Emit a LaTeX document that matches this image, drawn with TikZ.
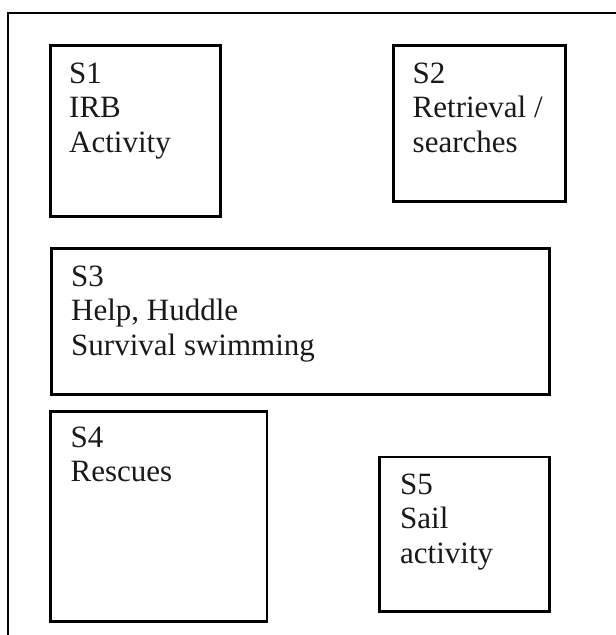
\documentclass[tikz,border=0pt]{standalone}
\usepackage{fontspec}
\setmainfont{Liberation Serif}
\begin{document}
\begin{tikzpicture}[x=1pt,y=-1pt,
  box/.style={draw=black,line width=2.6pt,rectangle,inner sep=0pt,anchor=north west},
  lbl/.style={anchor=base west,inner sep=0pt,align=left,text=black!90,font=\fontsize{31}{34.5}\selectfont}]
\useasboundingbox (0,0) rectangle (616,635);
\clip (0,0) rectangle (616,635);
% outer frame (cut by the page on the right and bottom)
\coordinate (fbl) at (8,660);
\coordinate (ftl) at (8,13);
\coordinate (ftr) at (617,13);
\coordinate (fbr) at (617,660);
\draw[line width=2.6pt] (fbl) -- (ftl) -- (ftr) -- (fbr);
% boxes
\node[box,minimum width=170pt,minimum height=171pt] (s1) at (49,44) {};
\node[box,minimum width=172pt,minimum height=156pt] (s2) at (392,44) {};
\node[box,minimum width=498pt,minimum height=146pt] (s3) at (50,247) {};
\node[box,minimum width=216.5pt,minimum height=210pt] (s4) at (49,410) {};
\node[box,minimum width=170pt,minimum height=154.5pt] (s5) at (378,455.5) {};
% labels (anchored at the baseline of their last line)
\node[lbl] (t1) at (69,152) {S1\\IRB\\Activity};
\node[lbl] (t2) at (412.5,152) {S2\\Retrieval /\\searches};
\node[lbl] (t3) at (71,355) {S3\\Help, Huddle\\Survival swimming};
\node[lbl] (t4) at (70.5,481.5) {S4\\Rescues};
\node[lbl] (t5) at (400,563) {S5\\Sail\\activity};
\end{tikzpicture}
\end{document}
